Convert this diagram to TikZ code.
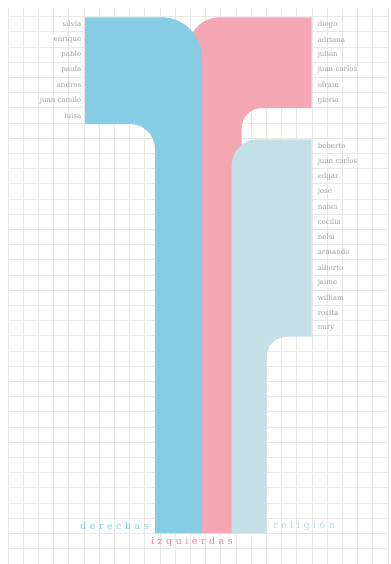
\documentclass[tikz,border=0pt]{standalone}
\usepackage{fontspec}
\setmainfont{DejaVu Serif}
\newfontfamily\spacedfont[LetterSpace=36]{DejaVu Serif}
\definecolor{derblue}{HTML}{86CCE3}
\definecolor{izqpink}{HTML}{F4A7B3}
\definecolor{relblue}{HTML}{C4DFE6}
\definecolor{gridgray}{HTML}{E8E8E8}
\definecolor{namegray}{HTML}{9E9E9E}
\definecolor{derlabel}{HTML}{84CBE0}
\definecolor{izqlabel}{HTML}{EE8599}
\definecolor{rellabel}{HTML}{BAD8E1}
\tikzset{
  gridline/.style={draw=gridgray, line width=0.7pt},
  leftname/.style={anchor=east, inner sep=0pt, text=namegray, font=\fontsize{5.3}{6}\selectfont},
  rightname/.style={anchor=west, inner sep=0pt, text=namegray, font=\fontsize{5.3}{6}\selectfont},
  bandlabel/.style={inner sep=0pt, font=\spacedfont\fontsize{7.2}{8}\selectfont}
}
\begin{document}
\begin{tikzpicture}[x=0.75pt,y=-0.75pt]
\useasboundingbox (0,0) rectangle (391,564);
\fill[white] (0,0) rectangle (391,564);
% grid
\foreach \i in {0,...,25} \draw[gridline] ({8+15.2*\i},8) -- ({8+15.2*\i},564);
\foreach \j in {0,...,35} \draw[gridline] (8,{16.7+15.2*\j}) -- (388,{16.7+15.2*\j});
% pink band (izquierdas)
\fill[izqpink] (188,533) -- (188,49.3) arc[start angle=180, end angle=270, radius=32]
  -- (311.7,17.3) -- (311.7,108) -- (261.7,108) arc[start angle=270, end angle=180, radius=20]
  -- (241.7,533) -- cycle;
% blue band (derechas)
\fill[derblue] (155,533) -- (155,149) arc[start angle=0, end angle=-90, radius=25]
  -- (85,124) -- (85,17.3) -- (161.7,17.3) arc[start angle=270, end angle=360, radius=40]
  -- (201.7,533) -- cycle;
% light blue band (religion)
\fill[relblue] (231.7,533) -- (231.7,165.3) arc[start angle=180, end angle=270, radius=26]
  -- (311.7,139.3) -- (311.7,336.7) -- (286.7,336.7) arc[start angle=270, end angle=180, radius=20]
  -- (266.7,533) -- cycle;
% names
\foreach \n [count=\i from 0] in {silvia,enrique,pablo,paula,andres,juan camilo,luisa}
  \node[leftname] (d\i) at (81.5,{24.3+15.2*\i}) {\n};
\foreach \n [count=\i from 0] in {diego,adriana,julian,juan carlos,efrain,gloria}
  \node[rightname] (z\i) at (317.5,{24.3+15.2*\i}) {\n};
\foreach \n [count=\i from 8] in {beberto,juan carlos,edgar,jose,nanci,cecilia,nelsi,armando,alberto,jaime,william,rosita,nury}
  \node[rightname] (r\i) at (317.5,{24.3+15.2*\i}) {\n};
% labels
\node[bandlabel, anchor=east, text=derlabel] (lder) at (149,525.9) {derechas};
\node[bandlabel, text=izqlabel] (lizq) at (192,541.8) {izquierdas};
\node[bandlabel, anchor=west, text=rellabel] (lrel) at (273,525.9) {religión};
\end{tikzpicture}
\end{document}
